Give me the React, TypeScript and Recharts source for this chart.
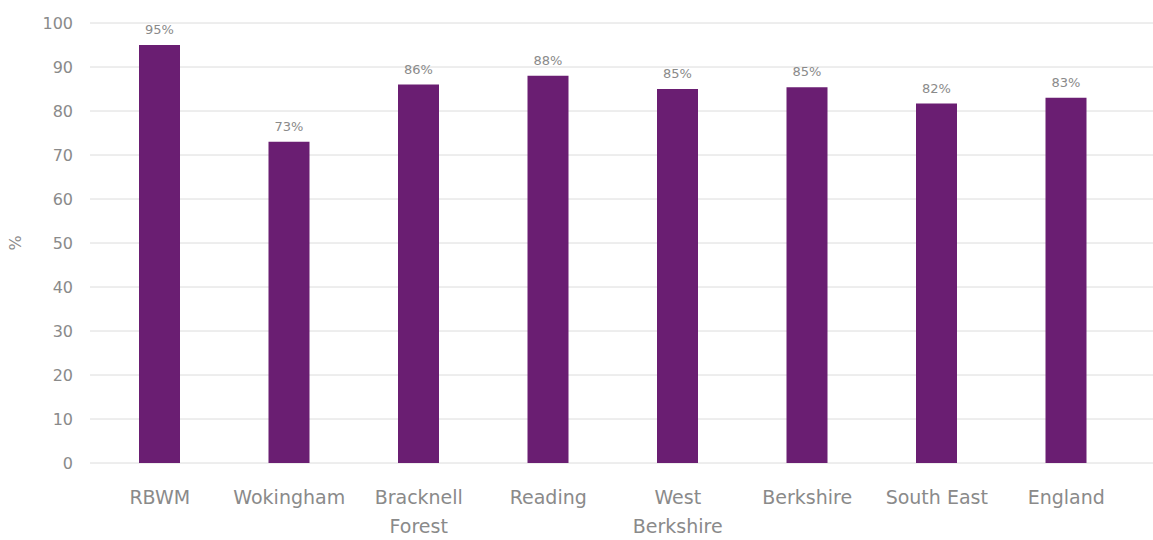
import { BarChart, Bar, XAxis, YAxis, CartesianGrid, LabelList, Label } from 'recharts';

// areas along the x axis ("\n" marks where the label wraps)
const categories = [
  'RBWM',
  'Wokingham',
  'Bracknell\nForest',
  'Reading',
  'West\nBerkshire',
  'Berkshire',
  'South East',
  'England',
];

// share in %
const values = [95, 73, 86, 88, 85, 85.4, 81.7, 83];

// printed labels above each bar
const valueLabels = ['95%', '73%', '86%', '88%', '85%', '85%', '82%', '83%'];

const yTicks = [0, 10, 20, 30, 40, 50, 60, 70, 80, 90, 100];

const data = categories.map((name, i) => ({
  name,
  value: values[i],
  label: valueLabels[i],
}));

const FONT = '"DejaVu Sans", sans-serif';
const GREY = '#8a8a8a';

function CategoryTick(props: any) {
  const { x, y, payload } = props;
  const lines = String(payload.value).split('\n');
  return (
    <g transform={`translate(${x},${y})`}>
      {lines.map((line: string, i: number) => (
        <text
          key={i}
          x={0}
          y={33 + i * 29}
          textAnchor="middle"
          fill={GREY}
          fontSize={19}
          fontFamily={FONT}
        >
          {line}
        </text>
      ))}
    </g>
  );
}

// rotated "%" axis title, centred on the plot height
function PercentLabel(props: any) {
  const { viewBox } = props;
  const cy = viewBox.y + viewBox.height / 2;
  return (
    <text
      x={15}
      y={cy}
      transform={`rotate(-90, 15, ${cy})`}
      textAnchor="middle"
      dominantBaseline="central"
      fill={GREY}
      fontSize={16}
      fontFamily={FONT}
    >
      %
    </text>
  );
}

export default function App() {
  return (
    <div style={{ position: 'absolute', left: 0, top: 0, background: '#fff' }}>
      <BarChart
        width={1153}
        height={540}
        data={data}
        margin={{ top: 23, right: 0, bottom: 0, left: 0 }}
      >
        <CartesianGrid vertical={false} stroke="#dcdcdc" />
        <XAxis
          dataKey="name"
          height={77}
          axisLine={false}
          tickLine={false}
          interval={0}
          padding={{ left: 5, right: 22 }}
          tick={<CategoryTick />}
        />
        <YAxis
          width={90}
          domain={[0, 100]}
          ticks={yTicks}
          axisLine={false}
          tickLine={false}
          tickSize={0}
          tickMargin={17}
          tick={{ fill: GREY, fontSize: 16, fontFamily: FONT }}
        >
          <Label content={<PercentLabel />} />
        </YAxis>
        <Bar dataKey="value" fill="#6a1e72" barSize={41} isAnimationActive={false}>
          <LabelList
            dataKey="label"
            position="top"
            offset={11}
            fill={GREY}
            fontSize={13}
            fontFamily={FONT}
          />
        </Bar>
      </BarChart>
    </div>
  );
}
